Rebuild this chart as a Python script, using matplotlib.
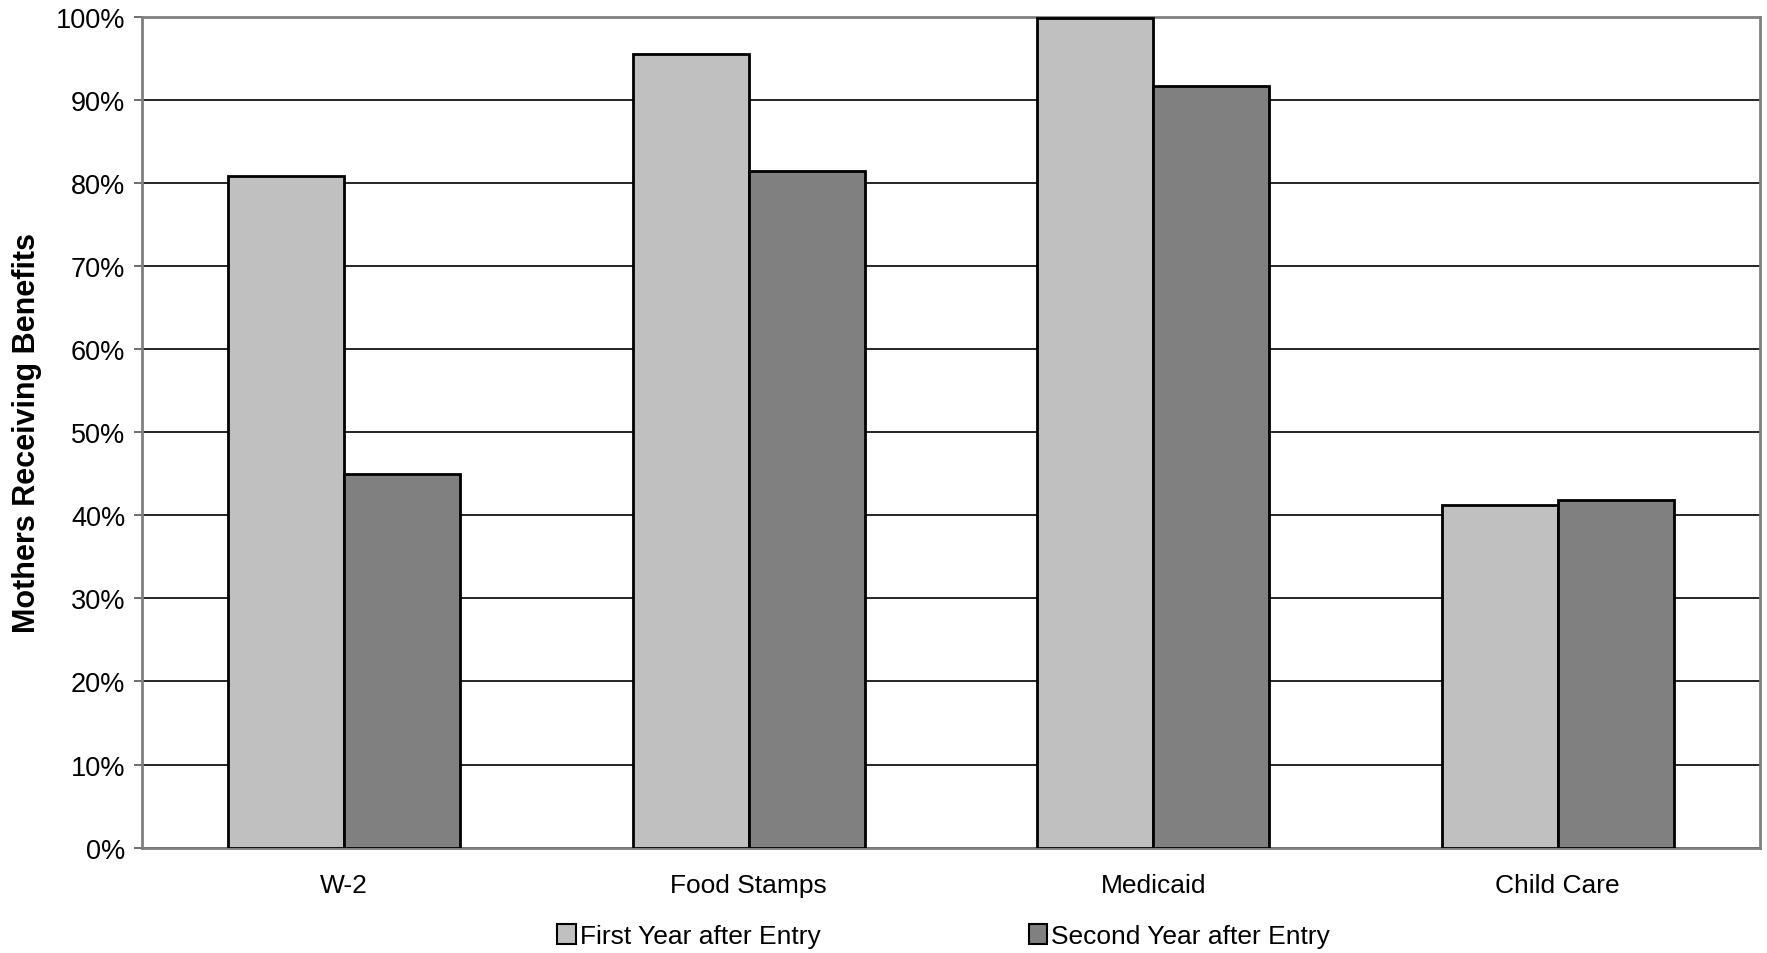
import matplotlib
matplotlib.use("Agg")
import matplotlib.pyplot as plt
import numpy as np
from matplotlib.patches import Patch

plt.rcParams['font.family'] = ['Liberation Sans', 'DejaVu Sans']

categories = ['W-2', 'Food Stamps', 'Medicaid', 'Child Care']
first_year = [80.9, 95.6, 99.9, 41.2]
second_year = [45.0, 81.5, 91.7, 41.8]
series_names = ['First Year after Entry', 'Second Year after Entry']

fig = plt.figure(figsize=(17.67, 9.54), dpi=100)
ax = fig.add_axes([0.0804, 0.1105, 0.9156, 0.8705])

x = np.arange(len(categories))
w = 0.287
ax.bar(x - w / 2, first_year, width=w, color='#c0c0c0', edgecolor='black', linewidth=2, zorder=3)
ax.bar(x + w / 2, second_year, width=w, color='#808080', edgecolor='black', linewidth=2, zorder=3)

ax.set_xlim(-0.5, len(categories) - 0.5)
ax.set_ylim(0, 100)
ax.set_yticks(np.arange(0, 101, 10))
ax.set_yticklabels([f'{v}%' for v in range(0, 101, 10)], fontsize=19.5)
ax.set_xticks(x)
ax.set_xticklabels(categories, fontsize=19)
ax.tick_params(axis='x', length=0, pad=18)
ax.tick_params(axis='y', length=6, width=1.2, color='#555555', pad=6)

ax.yaxis.grid(True, color='black', linewidth=1.2, zorder=0)
for s in ax.spines.values():
    s.set_color('#808080')
    s.set_linewidth(2)

ax.set_ylabel('Mothers Receiving Benefits', fontsize=22, fontweight='bold', labelpad=10)

handles = [Patch(facecolor='#c0c0c0', edgecolor='black', linewidth=1.5),
           Patch(facecolor='#808080', edgecolor='black', linewidth=1.5)]
fig.legend(handles, series_names, loc='center', bbox_to_anchor=(0.534, 0.018), ncol=2,
           frameon=False, fontsize=19, handlelength=0.7, handleheight=0.8,
           handletextpad=0.15, columnspacing=7.9)

fig.savefig('out.png', dpi=100)
